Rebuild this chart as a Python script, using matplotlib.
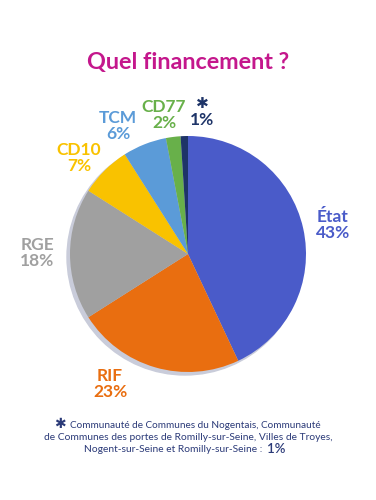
import matplotlib
matplotlib.use("Agg")
import matplotlib.pyplot as plt
from matplotlib.patches import Circle

labels = ["État", "RIF", "RGE", "CD10", "TCM", "CD77", "*"]
values = [43, 23, 18, 7, 6, 2, 1]
colors = ["#4A5BC9", "#E96E10", "#A0A0A0", "#F9C200", "#5B9BD8", "#68B04A", "#1E3468"]
pct_text = ["43%", "23%", "18%", "7%", "6%", "2%", "1%"]
# label anchor positions in pixel coordinates (x, y from top)
label_pos = [(333, 225), (110, 384), (37, 253), (79, 158), (118, 126), (164, 115), (202, 113)]

title = "Quel financement ?"
footnote = ["Communauté de Communes du Nogentais, Communauté",
            "de Communes des portes de Romilly-sur-Seine, Villes de Troyes,",
            "Nogent-sur-Seine et Romilly-sur-Seine :"]
footnote_pct = "1%"

plt.rcParams['font.family'] = ['Lato', 'DejaVu Sans']
W, H = 376, 500
fig = plt.figure(figsize=(W / 100, H / 100), dpi=100)
ax = fig.add_axes([0, 0, 1, 1])

cx, cy, r = 188, H - 254, 118
ax.add_patch(Circle((cx - 3, cy - 3), r, color="#C9CCDA", zorder=0))
ax.pie(values, colors=colors, startangle=90, counterclock=False,
       center=(cx, cy), radius=r, frame=True,
       wedgeprops=dict(linewidth=0))
ax.set_xlim(0, W)
ax.set_ylim(0, H)
ax.set_aspect('equal')
ax.axis('off')

ax.text(W / 2, H - 62, title, ha='center', va='center', fontsize=16.8,
        fontweight='bold', color="#C4178C")

for lab, pct, (px, py), col in zip(labels, pct_text, label_pos, colors):
    if lab == "*":
        ax.text(px, H - py + 9, "✱", ha='center', va='center', fontsize=11,
                color=col, family=['DejaVu Sans'])
        ax.text(px, H - py - 7, pct, ha='center', va='center', fontsize=12.5,
                fontweight='bold', color=col)
    else:
        ax.text(px, H - py, lab + "\n" + pct, ha='center', va='center',
                fontsize=12.5, fontweight='bold', color=col, linespacing=1.0)

fcol = "#2B3A78"
ax.text(70, H - 425, footnote[0], ha='left', va='center', fontsize=7.2, color=fcol)
ax.text(188, H - 438, footnote[1], ha='center', va='center', fontsize=7.4, color=fcol)
ax.text(262, H - 450, footnote[2], ha='right', va='center', fontsize=7.4, color=fcol)
ax.text(267, H - 449, footnote_pct, ha='left', va='center', fontsize=9.5,
        fontweight='semibold', color=fcol)
ax.text(60, H - 424, "✱", ha='center', va='center', fontsize=10,
        color=fcol, family=['DejaVu Sans'])

fig.savefig("out.png", dpi=100)
